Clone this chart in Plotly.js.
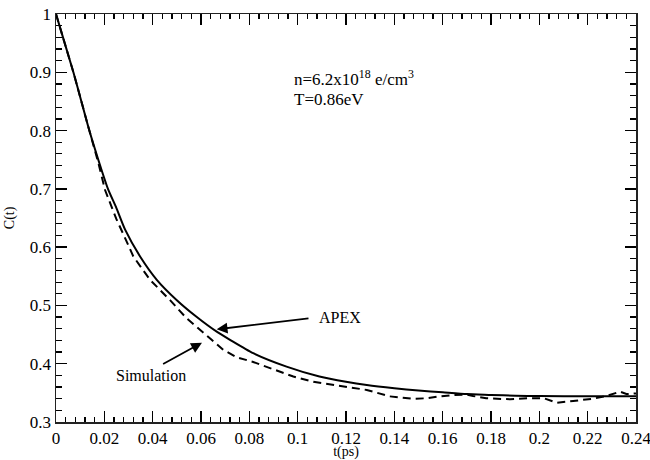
<!DOCTYPE html>
<html>
<head>
<meta charset="utf-8">
<script src="https://cdn.plot.ly/plotly-3.0.1.min.js"></script>
<style>html,body{margin:0;padding:0;background:#fff;}#chart{width:650px;height:460px;}</style>
</head>
<body>
<div id="chart"></div>
<script>
// APEX (solid) readings
const apexT = [0, 0.0036, 0.0072, 0.0105, 0.0138, 0.0175, 0.0215, 0.025, 0.0286, 0.0348, 0.0417, 0.050, 0.058, 0.0665, 0.072, 0.0816, 0.0954, 0.109, 0.12, 0.1286, 0.14, 0.15, 0.16, 0.17, 0.18, 0.19, 0.20, 0.22, 0.24];
const apexC = [1.0, 0.95, 0.90, 0.85, 0.80, 0.75, 0.70, 0.667, 0.63, 0.584, 0.544, 0.509, 0.481, 0.455, 0.441, 0.418, 0.395, 0.378, 0.369, 0.3635, 0.358, 0.354, 0.351, 0.348, 0.3465, 0.345, 0.3445, 0.344, 0.344];
// Simulation (dashed) readings
const simT = [0, 0.0072, 0.0138, 0.0175, 0.0203, 0.025, 0.0292, 0.032, 0.0389, 0.0472, 0.054, 0.061, 0.0644, 0.0692, 0.0748, 0.0816, 0.090, 0.0982, 0.1065, 0.1148, 0.123, 0.1286, 0.138, 0.148, 0.1534, 0.1575, 0.1644, 0.170, 0.1726, 0.178, 0.188, 0.195, 0.2017, 0.2072, 0.214, 0.2223, 0.2278, 0.2334, 0.236, 0.24];
const simC = [1.0, 0.90, 0.80, 0.745, 0.698, 0.648, 0.61, 0.584, 0.544, 0.509, 0.478, 0.452, 0.441, 0.424, 0.411, 0.403, 0.390, 0.378, 0.369, 0.3635, 0.358, 0.355, 0.344, 0.340, 0.3407, 0.3435, 0.3463, 0.347, 0.3446, 0.3407, 0.339, 0.3407, 0.341, 0.333, 0.336, 0.340, 0.3446, 0.352, 0.348, 0.349];
// tick values and labels
const xTickVals = [0, 0.02, 0.04, 0.06, 0.08, 0.1, 0.12, 0.14, 0.16, 0.18, 0.2, 0.22, 0.24];
const xTickText = ["0", "0.02", "0.04", "0.06", "0.08", "0.1", "0.12", "0.14", "0.16", "0.18", "0.2", "0.22", "0.24"];
const yTickVals = [0.3, 0.4, 0.5, 0.6, 0.7, 0.8, 0.9, 1.0];
const yTickText = ["0.3", "0.4", "0.5", "0.6", "0.7", "0.8", "0.9", "1"];

const serif = "Liberation Serif";

const traces = [
  {x: apexT, y: apexC, mode: 'lines', name: 'APEX', line: {color: '#000', width: 2, shape: 'spline', smoothing: 0.6}},
  {x: simT, y: simC, mode: 'lines', name: 'Simulation', line: {color: '#000', width: 2, dash: '8px,5px'}}
];

const axisCommon = {
  showline: true, linecolor: '#222', linewidth: 1.5, mirror: 'ticks',
  ticks: 'inside', tickcolor: '#000', tickwidth: 1.5, ticklen: 11,
  showgrid: false, zeroline: false, ticklabeloverflow: 'allow',
  tickfont: {family: serif, size: 17, color: '#000'}
};

const layout = {
  width: 650, height: 460,
  margin: {l: 56, r: 14, t: 14, b: 38},
  paper_bgcolor: '#fff', plot_bgcolor: '#fff',
  showlegend: false,
  font: {family: serif, size: 16, color: '#000'},
  xaxis: Object.assign({}, axisCommon, {
    range: [0, 0.24], tickmode: 'array', tickvals: xTickVals, ticktext: xTickText,
    minor: {ticks: 'inside', dtick: 0.004, ticklen: 5, tickcolor: '#000', tickwidth: 1.2},
    title: {text: 't(ps)', font: {family: serif, size: 14, color: '#000'}, standoff: 2}
  }),
  yaxis: Object.assign({}, axisCommon, {
    range: [0.3, 1.0], tickmode: 'array', tickvals: yTickVals, ticktext: yTickText,
    minor: {ticks: 'inside', dtick: 0.02, ticklen: 6, tickcolor: '#000', tickwidth: 1.2}
  }),
  annotations: [
    {xref: 'paper', yref: 'paper', x: -0.079, y: 0.5, xanchor: 'center', yanchor: 'middle', showarrow: false,
     textangle: -90, text: 'C(t)', font: {family: serif, size: 14, color: '#000'}},
    {xref: 'x', yref: 'y', x: 0.0975, y: 0.89, xanchor: 'left', yanchor: 'middle', showarrow: false,
     text: 'n=6.2x10<sup>18</sup> e/cm<sup>3</sup>', font: {family: serif, size: 17, color: '#000'}},
    {xref: 'x', yref: 'y', x: 0.0975, y: 0.8525, xanchor: 'left', yanchor: 'middle', showarrow: false,
     text: 'T=0.86eV', font: {family: serif, size: 17, color: '#000'}},
    {xref: 'x', yref: 'y', x: 0.1080, y: 0.480, xanchor: 'left', yanchor: 'middle', showarrow: false,
     text: 'APEX', font: {family: serif, size: 16, color: '#000'}},
    {xref: 'x', yref: 'y', x: 0.0240, y: 0.3806, xanchor: 'left', yanchor: 'middle', showarrow: false,
     text: 'Simulation', font: {family: serif, size: 16, color: '#000'}},
    {xref: 'x', yref: 'y', axref: 'x', ayref: 'y', x: 0.0665, y: 0.459, ax: 0.1051, ay: 0.478,
     text: '', showarrow: true, arrowhead: 2, arrowsize: 1.2, arrowwidth: 1.8, arrowcolor: '#000'},
    {xref: 'x', yref: 'y', axref: 'x', ayref: 'y', x: 0.0604, y: 0.436, ax: 0.0437, ay: 0.398,
     text: '', showarrow: true, arrowhead: 2, arrowsize: 1.2, arrowwidth: 1.8, arrowcolor: '#000'}
  ]
};

Plotly.newPlot('chart', traces, layout, {displayModeBar: false, staticPlot: true});
</script>
</body>
</html>
